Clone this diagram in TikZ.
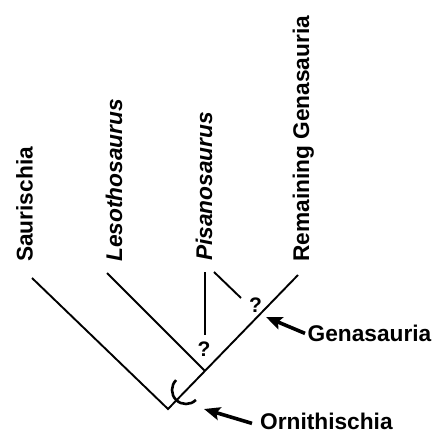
\documentclass[tikz,border=0pt]{standalone}
\usepackage{fontspec}
\setmainfont{Liberation Sans}
\usetikzlibrary{arrows.meta}
\begin{document}
\begin{tikzpicture}[x=1bp,y=-1bp,
  branch/.style={line width=1.9bp, line cap=butt},
  arcst/.style={line width=2.6bp},
  pointer/.style={line width=3.6bp, -{Stealth[length=16bp,width=13bp,inset=3bp]}},
  lab/.style={font=\fontsize{22.7bp}{27bp}\selectfont\bfseries, inner sep=0pt},
  taxon/.style={lab, rotate=90, anchor=base west},
  qm/.style={font=\fontsize{21bp}{25bp}\selectfont\bfseries, inner sep=0pt}
]
\useasboundingbox (0,0) rectangle (433,434);
% tree coordinates
\coordinate (root) at (168,409);
\coordinate (sau) at (32,278);
\coordinate (leso) at (107,273);
\coordinate (lesoj) at (205,371);
\coordinate (rg) at (298,275);
\coordinate (pvt) at (205,272);
\coordinate (pvb) at (205,335);
\coordinate (pdt) at (214,272);
\coordinate (pdb) at (241,298);
\coordinate (gtip) at (266,317);
\coordinate (otip) at (204,409);
% taxa labels
\node[taxon] (tsau) at (32.5,262) {Saurischia};
\node[taxon] (tleso) at (122,262) {\itshape Lesothosaurus};
\node[taxon] (tpis) at (212,261) {\itshape Pisanosaurus};
\node[taxon] (trg) at (309,262) {Remaining Genasauria};
% branches
\draw[branch] (sau) -- (root) -- (rg);
\draw[branch] (leso) -- (lesoj);
\draw[branch] (pvt) -- (pvb);
\draw[branch] (pdt) -- (pdb);
% question marks
\node[qm] (q1) at (204,349) {?};
\node[qm] (q2) at (255.5,305) {?};
% Ornithischia arc
\draw[arcst] (176.1,380.1) arc[start angle=225, end angle=45, radius=14];
% clade labels
\node[lab, anchor=base west] (gen) at (307.5,341) {Genasauria};
\node[lab, anchor=base west] (orn) at (260,429.5) {Ornithischia};
\draw[pointer] ([xshift=-2.5bp,yshift=-0.5bp]gen.west) -- (gtip);
\draw[pointer] ([xshift=-8bp,yshift=-2bp]orn.west) -- (otip);
\end{tikzpicture}
\end{document}
